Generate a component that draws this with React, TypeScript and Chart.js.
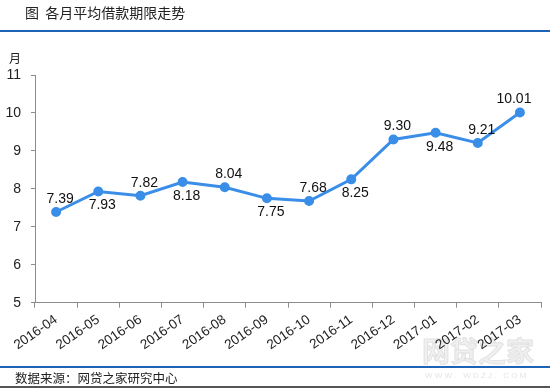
import React, { useEffect, useRef } from "react";
import { Chart, registerables } from "chart.js";

Chart.register(...registerables);

const categories = [
  "2016-04", "2016-05", "2016-06", "2016-07", "2016-08", "2016-09",
  "2016-10", "2016-11", "2016-12", "2017-01", "2017-02", "2017-03",
];
const termValues = [7.39, 7.93, 7.82, 8.18, 8.04, 7.75, 7.68, 8.25, 9.3, 9.48, 9.21, 10.01];
const labelSide = ["above", "below", "above", "below", "above", "below", "above", "below", "above", "below", "above", "above"];
const titleText = "图  各月平均借款期限走势";
const sourceText = "数据来源：网贷之家研究中心";
const unitText = "月";

const FONT = "'Liberation Sans', Arial, sans-serif";
const LINE_COLOR = "#3a8ee8";

const decorPlugin = {
  id: "decor",
  beforeDraw(chart: any) {
    const ctx = chart.ctx;
    ctx.save();
    ctx.fillStyle = "#ffffff";
    ctx.fillRect(0, 0, chart.width, chart.height);
    // watermark
    ctx.fillStyle = "#f0f0f0";
    ctx.strokeStyle = "#e2e2e2";
    ctx.lineWidth = 1;
    ctx.font = "bold 28px 'Noto Sans CJK SC', sans-serif";
    ctx.textAlign = "left";
    ctx.textBaseline = "middle";
    ctx.fillText("网贷之家", 422, 351);
    ctx.strokeText("网贷之家", 422, 351);
    ctx.font = "8px 'Liberation Sans', sans-serif";
    ctx.fillStyle = "#e4e4e4";
    ctx.fillText("W W W .   W D Z J .   C O M", 425, 376);
    ctx.restore();
  },
  afterDraw(chart: any) {
    const ctx = chart.ctx;
    ctx.save();
    // title
    ctx.fillStyle = "#222222";
    ctx.font = "14px 'Noto Sans CJK SC', sans-serif";
    ctx.textAlign = "left";
    ctx.textBaseline = "middle";
    ctx.fillText(titleText, 25, 13);
    // top & bottom blue rules
    ctx.fillStyle = "#1f63b8";
    ctx.fillRect(0, 30, chart.width, 2);
    ctx.fillRect(0, 366, chart.width, 2);
    // source
    ctx.fillStyle = "#222222";
    ctx.font = "12.5px 'Noto Sans CJK SC', sans-serif";
    ctx.fillText(sourceText, 15, 378);
    // bottom dark line
    ctx.fillStyle = "#555555";
    ctx.fillRect(0, 386, chart.width, 2);
    // unit
    ctx.fillStyle = "#222222";
    ctx.font = "12px 'Noto Sans CJK SC', sans-serif";
    ctx.textAlign = "center";
    ctx.fillText(unitText, 15, 58);
    // data labels
    const meta = chart.getDatasetMeta(0);
    ctx.font = `14px ${FONT}`;
    ctx.fillStyle = "#111111";
    ctx.textAlign = "center";
    ctx.textBaseline = "middle";
    meta.data.forEach((pt: any, i: number) => {
      const v = termValues[i];
      const dx = i === termValues.length - 1 ? -6 : 4;
      const dy = labelSide[i] === "above" ? -13 : 14;
      ctx.fillText(v.toFixed(2), pt.x + dx, pt.y + dy);
    });
    ctx.restore();
  },
};

export default function App() {
  const ref = useRef<HTMLCanvasElement | null>(null);
  useEffect(() => {
    if (!ref.current) return;
    const chart = new Chart(ref.current, {
      type: "line",
      data: {
        labels: categories,
        datasets: [
          {
            data: termValues,
            borderColor: LINE_COLOR,
            backgroundColor: LINE_COLOR,
            borderWidth: 3,
            pointRadius: 3.5,
            pointBackgroundColor: LINE_COLOR,
            pointBorderColor: LINE_COLOR,
            tension: 0,
          },
        ],
      },
      options: {
        animation: false,
        responsive: false,
        maintainAspectRatio: false,
        layout: { padding: { top: 75, right: 9, left: 0, bottom: 0 } },
        plugins: {
          legend: { display: false },
          tooltip: { enabled: false },
          title: { display: false },
        },
        scales: {
          x: {
            offset: true,
            afterFit(scale: any) {
              scale.height = 85.3;
            },
            border: { display: true, color: "#8c8c8c", width: 1 },
            grid: {
              offset: true,
              drawOnChartArea: false,
              drawTicks: true,
              tickLength: 5,
              color: "#8c8c8c",
            },
            ticks: {
              autoSkip: false,
              minRotation: 35,
              maxRotation: 35,
              padding: 4,
              color: "#222222",
              font: { family: FONT, size: 13.5 },
            },
          },
          y: {
            min: 5,
            max: 11,
            afterFit(scale: any) {
              scale.width = 35;
            },
            border: { display: true, color: "#8c8c8c", width: 1 },
            grid: {
              drawOnChartArea: false,
              drawTicks: true,
              tickLength: 4,
              color: "#8c8c8c",
            },
            ticks: {
              stepSize: 1,
              padding: 10,
              color: "#222222",
              font: { family: FONT, size: 14 },
            },
          },
        },
      },
      plugins: [decorPlugin],
    });
    return () => chart.destroy();
  }, []);
  return (
    <div style={{ position: "fixed", left: 0, top: 0, width: 550, height: 388, background: "#fff" }}>
      <canvas ref={ref} width={550} height={388} style={{ display: "block", width: 550, height: 388 }} />
    </div>
  );
}
